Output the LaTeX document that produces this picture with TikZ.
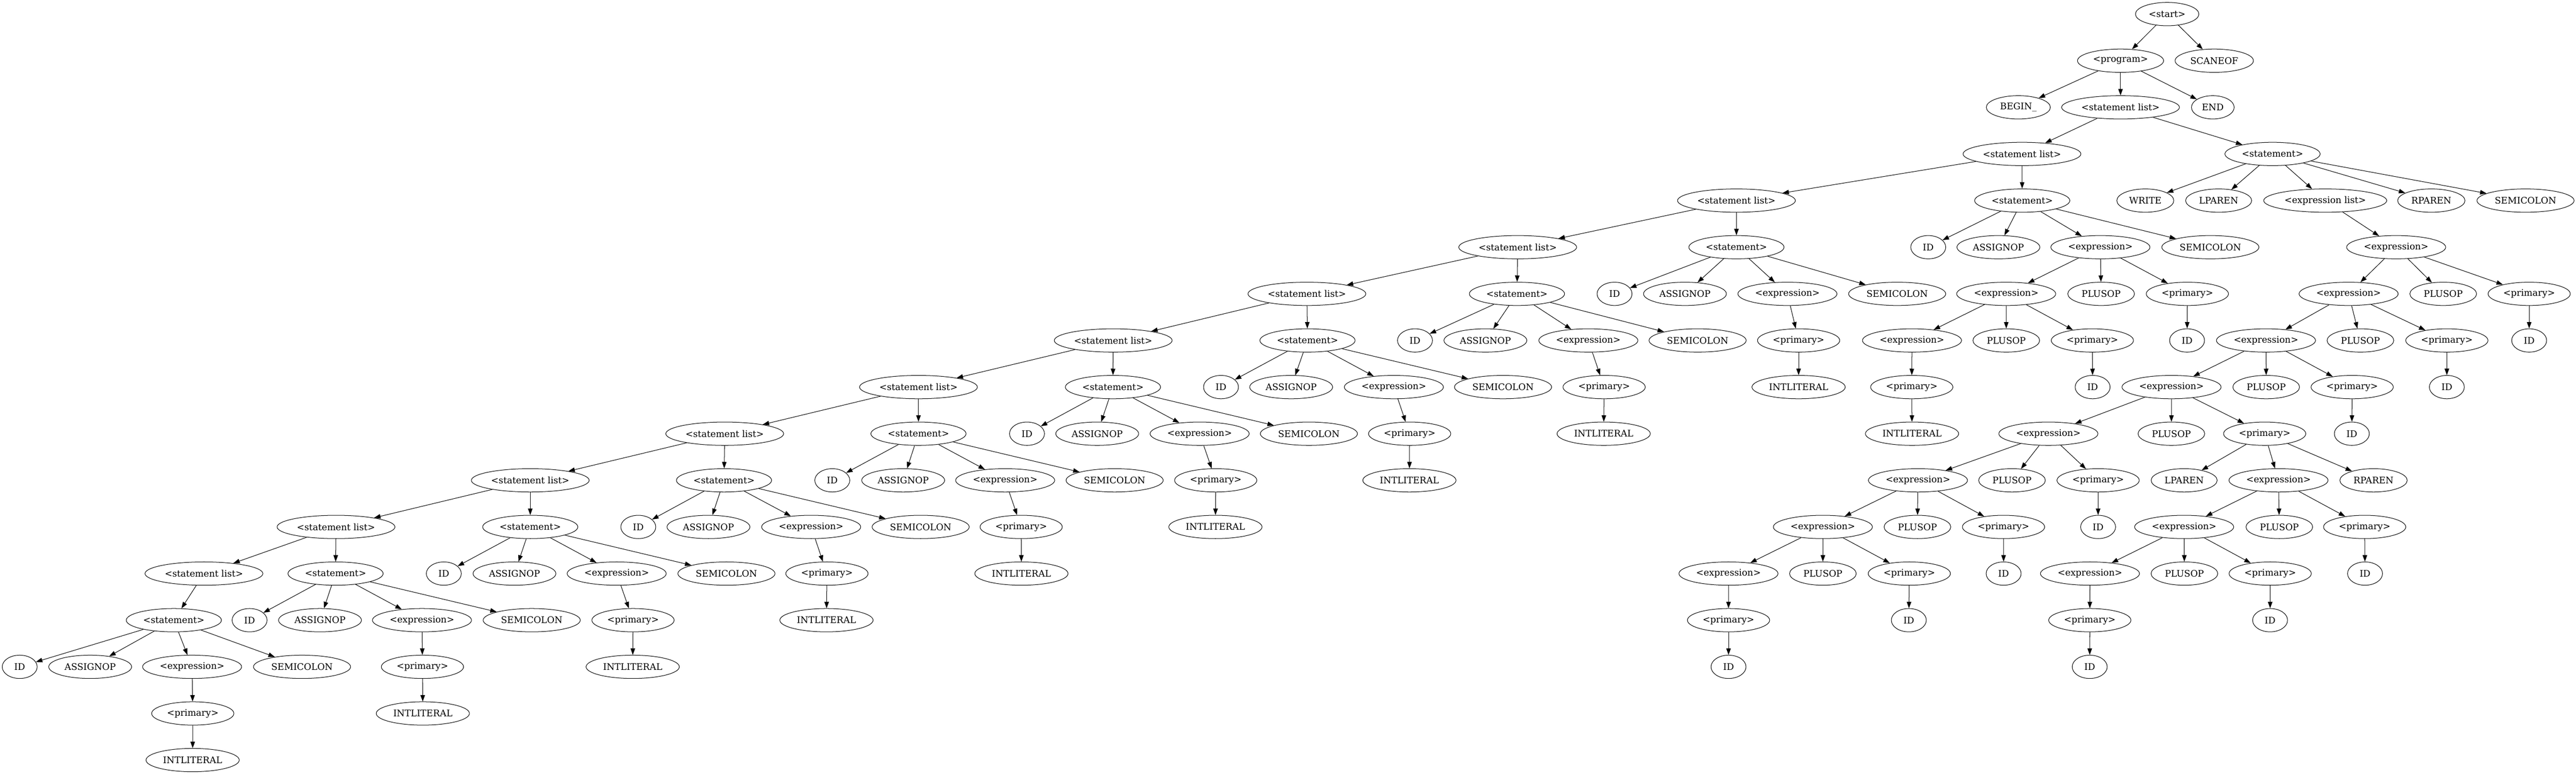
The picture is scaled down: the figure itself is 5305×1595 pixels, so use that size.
\documentclass[tikz,border=0pt]{standalone}
\usepackage{fontspec}
\setmainfont{DejaVu Serif}
\usetikzlibrary{shapes.geometric,arrows.meta}
\begin{document}
\begin{tikzpicture}[x=0.75pt,y=-0.75pt,
  gv/.style={draw, ellipse, line width=0.8pt, minimum height=36pt, inner sep=0pt, font=\fontsize{14pt}{16pt}\selectfont},
  nstart/.style={gv,minimum width=98pt},
  nprog/.style={gv,minimum width=133pt},
  nscan/.style={gv,minimum width=121pt},
  nbeg/.style={gv,minimum width=99pt},
  nsl/.style={gv,minimum width=182pt},
  nend/.style={gv,minimum width=66pt},
  nst/.style={gv,minimum width=147pt},
  nwr/.style={gv,minimum width=88pt},
  nlp/.style={gv,minimum width=102pt},
  nexl/.style={gv,minimum width=190pt},
  nrp/.style={gv,minimum width=104pt},
  nsemi/.style={gv,minimum width=150pt},
  nid/.style={gv,minimum width=54pt},
  nas/.style={gv,minimum width=128pt},
  nex/.style={gv,minimum width=153pt},
  nplus/.style={gv,minimum width=103pt},
  npr/.style={gv,minimum width=127pt},
  nint/.style={gv,minimum width=144pt},
  gvedge/.style={line width=0.8pt, -{Triangle[length=10pt,width=7pt]}}]
\useasboundingbox (0,0) rectangle (5305,1595);
% L0
\node[nstart] (start) at (4463,29) {<start>};
% L1
\node[nprog] (prog) at (4367,125) {<program>};
\node[nscan] (scan) at (4560,125) {SCANEOF};
% L2
\node[nbeg] (beg) at (4156.5,221) {BEGIN\_};
\node[nsl] (sla) at (4367,221) {<statement list>};
\node[nend] (endn) at (4557,221) {END};
% L3
\node[nsl] (slb) at (4164,317) {<statement list>};
\node[nst] (stw) at (4680,317) {<statement>};
% L4
\node[nsl] (slc) at (3576,413) {<statement list>};
\node[nst] (sta) at (4164.5,413) {<statement>};
\node[nwr] (wr) at (4418,413) {WRITE};
\node[nlp] (lpa) at (4569,413) {LPAREN};
\node[nexl] (exl) at (4788.5,413) {<expression list>};
\node[nrp] (rpa) at (5007,413) {RPAREN};
\node[nsemi] (sew) at (5201,413) {SEMICOLON};
% L5
\node[nsl] (sld) at (3125.5,509) {<statement list>};
\node[nst] (stb) at (3576,509) {<statement>};
\node[nid] (ida) at (3971,509) {ID};
\node[nas] (asa) at (4115.5,509) {ASSIGNOP};
\node[nex] (exa) at (4325.5,509) {<expression>};
\node[nsemi] (sea) at (4552,509) {SEMICOLON};
\node[nex] (eza) at (4934.6,509) {<expression>};
% L6
\node[nsl] (sle) at (2691.4,605) {<statement list>};
\node[nst] (stc) at (3124,605) {<statement>};
\node[nid] (idb) at (3325,605) {ID};
\node[nas] (asb) at (3470,605) {ASSIGNOP};
\node[nex] (exb) at (3681,605) {<expression>};
\node[nsemi] (seb) at (3907,605) {SEMICOLON};
\node[nex] (exa1) at (4131.5,605) {<expression>};
\node[nplus] (pla) at (4327,605) {PLUSOP};
\node[npr] (pra) at (4504.6,605) {<primary>};
\node[nex] (ezb) at (4836.7,605) {<expression>};
\node[nplus] (plza) at (5031.5,605) {PLUSOP};
\node[npr] (prza) at (5208.5,605) {<primary>};
% L7
\node[nsl] (slf) at (2292.5,701) {<statement list>};
\node[nst] (std) at (2692.6,701) {<statement>};
\node[nid] (idc) at (2914,701) {ID};
\node[nas] (asc) at (3059,701) {ASSIGNOP};
\node[nex] (exc) at (3271,701) {<expression>};
\node[nsemi] (sec) at (3496,701) {SEMICOLON};
\node[npr] (prb) at (3704,701) {<primary>};
\node[nex] (exa2) at (3937.5,701) {<expression>};
\node[nplus] (pla1) at (4131.7,701) {PLUSOP};
\node[npr] (pra1) at (4309,701) {<primary>};
\node[nid] (ida1) at (4504,701) {ID};
\node[nex] (ezc) at (4666.5,701) {<expression>};
\node[nplus] (plzb) at (4861,701) {PLUSOP};
\node[npr] (przb) at (5039,701) {<primary>};
\node[nid] (idza) at (5208.5,701) {ID};
% L8
\node[nsl] (slg) at (1891.5,797) {<statement list>};
\node[nst] (ste) at (2292,797) {<statement>};
\node[nid] (idd) at (2514.5,797) {ID};
\node[nas] (asd) at (2659,797) {ASSIGNOP};
\node[nex] (exd) at (2870.5,797) {<expression>};
\node[nsemi] (sed) at (3095.3,797) {SEMICOLON};
\node[npr] (prc) at (3303.5,797) {<primary>};
\node[nint] (inb) at (3704,797) {INTLITERAL};
\node[npr] (pra2) at (3937,797) {<primary>};
\node[nid] (ida2) at (4309.5,797) {ID};
\node[nex] (ezd) at (4472,797) {<expression>};
\node[nplus] (plzc) at (4667,797) {PLUSOP};
\node[npr] (przc) at (4844,797) {<primary>};
\node[nid] (idzb) at (5039,797) {ID};
% L9
\node[nsl] (slh) at (1492.5,893) {<statement list>};
\node[nst] (stf) at (1891.5,893) {<statement>};
\node[nid] (ide) at (2115,893) {ID};
\node[nas] (ase) at (2259.6,893) {ASSIGNOP};
\node[nex] (exe) at (2470.5,893) {<expression>};
\node[nsemi] (see) at (2695.5,893) {SEMICOLON};
\node[npr] (prd) at (2903,893) {<primary>};
\node[nint] (inc) at (3302.6,893) {INTLITERAL};
\node[nint] (ina2) at (3937.6,893) {INTLITERAL};
\node[nex] (eze) at (4218.4,893) {<expression>};
\node[nplus] (plzd) at (4471.7,893) {PLUSOP};
\node[npr] (przd) at (4663.8,893) {<primary>};
\node[nid] (idzc) at (4843.3,893) {ID};
% L10
\node[nsl] (sli) at (1092,989) {<statement list>};
\node[nst] (stg) at (1491,989) {<statement>};
\node[nid] (idf) at (1714,989) {ID};
\node[nas] (asf) at (1860,989) {ASSIGNOP};
\node[nex] (exf) at (2070,989) {<expression>};
\node[nsemi] (sef) at (2295.4,989) {SEMICOLON};
\node[npr] (pre) at (2503.6,989) {<primary>};
\node[nint] (ind) at (2902.5,989) {INTLITERAL};
\node[nex] (ezf) at (3949.8,989) {<expression>};
\node[nplus] (plze) at (4143.5,989) {PLUSOP};
\node[npr] (prze) at (4320.8,989) {<primary>};
\node[nlp] (lpb) at (4498,989) {LPAREN};
\node[nex] (pxa) at (4692.3,989) {<expression>};
\node[nrp] (rpb) at (4888,989) {RPAREN};
% L11
\node[nsl] (slj) at (692,1085) {<statement list>};
\node[nst] (sth) at (1092,1085) {<statement>};
\node[nid] (idg) at (1314.5,1085) {ID};
\node[nas] (asg) at (1459,1085) {ASSIGNOP};
\node[nex] (exg) at (1670.5,1085) {<expression>};
\node[nsemi] (seg) at (1896,1085) {SEMICOLON};
\node[npr] (prf) at (2103,1085) {<primary>};
\node[nint] (ine) at (2503,1085) {INTLITERAL};
\node[nex] (ezg) at (3754,1085) {<expression>};
\node[nplus] (plzf) at (3948.7,1085) {PLUSOP};
\node[npr] (przf) at (4126,1085) {<primary>};
\node[nid] (idze) at (4320.8,1085) {ID};
\node[nex] (pxb) at (4498,1085) {<expression>};
\node[nplus] (plpa) at (4694,1085) {PLUSOP};
\node[npr] (prpa) at (4869.7,1085) {<primary>};
% L12
\node[nsl] (slk) at (420,1181) {<statement list>};
\node[nst] (sti) at (691,1181) {<statement>};
\node[nid] (idh) at (914,1181) {ID};
\node[nas] (ash) at (1059.5,1181) {ASSIGNOP};
\node[nex] (exh) at (1270,1181) {<expression>};
\node[nsemi] (seh) at (1496,1181) {SEMICOLON};
\node[npr] (prg) at (1703,1181) {<primary>};
\node[nint] (inf) at (2103.5,1181) {INTLITERAL};
\node[nex] (ezh) at (3559.6,1181) {<expression>};
\node[nplus] (plzg) at (3754,1181) {PLUSOP};
\node[npr] (przg) at (3932,1181) {<primary>};
\node[nid] (idzf) at (4126.2,1181) {ID};
\node[nex] (pxc) at (4304,1181) {<expression>};
\node[nplus] (plpb) at (4498.5,1181) {PLUSOP};
\node[npr] (prpb) at (4675.2,1181) {<primary>};
\node[nid] (idpa) at (4870.5,1181) {ID};
% L13
\node[nst] (stj) at (358,1277) {<statement>};
\node[nid] (idi) at (514,1277) {ID};
\node[nas] (asi) at (659,1277) {ASSIGNOP};
\node[nex] (exi) at (869,1277) {<expression>};
\node[nsemi] (sei) at (1095,1277) {SEMICOLON};
\node[npr] (prh) at (1303.6,1277) {<primary>};
\node[nint] (ing) at (1702,1277) {INTLITERAL};
\node[npr] (przh) at (3559.7,1277) {<primary>};
\node[nid] (idzg) at (3931,1277) {ID};
\node[npr] (prpc) at (4303.7,1277) {<primary>};
\node[nid] (idpb) at (4675,1277) {ID};
% L14
\node[nid] (idj) at (40.6,1373) {ID};
\node[nas] (asj) at (185.7,1373) {ASSIGNOP};
\node[nex] (exj) at (395.6,1373) {<expression>};
\node[nsemi] (sej) at (622,1373) {SEMICOLON};
\node[npr] (pri) at (870,1373) {<primary>};
\node[nint] (inh) at (1303,1373) {INTLITERAL};
\node[nid] (idzh) at (3559.7,1373) {ID};
\node[nid] (idpc) at (4303.5,1373) {ID};
% L15
\node[npr] (prj) at (397,1469) {<primary>};
\node[nint] (ini) at (870.8,1469) {INTLITERAL};
% L16
\node[nint] (inj) at (396.7,1565) {INTLITERAL};
% edges
\foreach \a/\b in {start/prog,start/scan,prog/beg,prog/sla,prog/endn,
  sla/slb,sla/stw,stw/wr,stw/lpa,stw/exl,stw/rpa,stw/sew,exl/eza,
  slb/slc,slb/sta,sta/ida,sta/asa,sta/exa,sta/sea,
  exa/exa1,exa/pla,exa/pra,exa1/exa2,exa1/pla1,exa1/pra1,pra/ida1,
  exa2/pra2,pra2/ina2,pra1/ida2,
  slc/sld,slc/stb,stb/idb,stb/asb,stb/exb,stb/seb,exb/prb,prb/inb,
  sld/sle,sld/stc,stc/idc,stc/asc,stc/exc,stc/sec,exc/prc,prc/inc,
  sle/slf,sle/std,std/idd,std/asd,std/exd,std/sed,exd/prd,prd/ind,
  slf/slg,slf/ste,ste/ide,ste/ase,ste/exe,ste/see,exe/pre,pre/ine,
  slg/slh,slg/stf,stf/idf,stf/asf,stf/exf,stf/sef,exf/prf,prf/inf,
  slh/sli,slh/stg,stg/idg,stg/asg,stg/exg,stg/seg,exg/prg,prg/ing,
  sli/slj,sli/sth,sth/idh,sth/ash,sth/exh,sth/seh,exh/prh,prh/inh,
  slj/slk,slj/sti,sti/idi,sti/asi,sti/exi,sti/sei,exi/pri,pri/ini,
  slk/stj,stj/idj,stj/asj,stj/exj,stj/sej,exj/prj,prj/inj,
  eza/ezb,eza/plza,eza/prza,prza/idza,
  ezb/ezc,ezb/plzb,ezb/przb,przb/idzb,
  ezc/ezd,ezc/plzc,ezc/przc,przc/idzc,
  ezd/eze,ezd/plzd,ezd/przd,przd/lpb,przd/pxa,przd/rpb,
  eze/ezf,eze/plze,eze/prze,prze/idze,
  ezf/ezg,ezf/plzf,ezf/przf,przf/idzf,
  ezg/ezh,ezg/plzg,ezg/przg,ezh/przh,przh/idzh,przg/idzg,
  pxa/pxb,pxa/plpa,pxa/prpa,prpa/idpa,
  pxb/pxc,pxb/plpb,pxb/prpb,pxc/prpc,prpc/idpc,prpb/idpb}
  \draw[gvedge] (\a) -- (\b);
\end{tikzpicture}
\end{document}
